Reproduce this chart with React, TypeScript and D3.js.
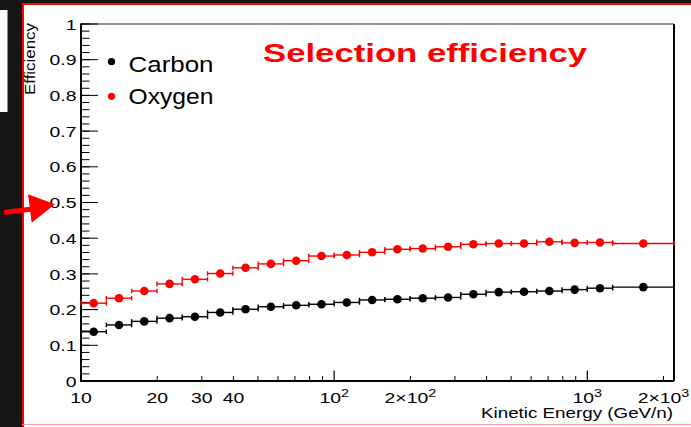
import React from "react";
import * as d3 from "d3";

// Canvas
const W = 691;
const H = 427;

// Kinetic energy bins (GeV/n): 0.1-decade bins from 10 to ~1260, plus one wide last bin
const binEdges = [
  10, 12.59, 15.85, 19.95, 25.12, 31.62, 39.81, 50.12, 63.1, 79.43, 100, 125.9,
  158.5, 199.5, 251.2, 316.2, 398.1, 501.2, 631, 794.3, 1000, 1258.9, 2200,
];

// Selection efficiency per bin
const carbon = [
  0.138, 0.157, 0.167, 0.176, 0.18, 0.192, 0.201, 0.208, 0.212, 0.215, 0.22,
  0.227, 0.229, 0.232, 0.234, 0.243, 0.249, 0.25, 0.252, 0.256, 0.26, 0.263,
];
const oxygen = [
  0.218, 0.232, 0.252, 0.272, 0.285, 0.301, 0.317, 0.328, 0.337, 0.35, 0.353,
  0.3605, 0.369, 0.371, 0.376, 0.383, 0.385, 0.385, 0.39, 0.387, 0.388, 0.385,
];

// Axis ticks
const xMajor = [10, 100, 1000];
const xMinor = [20, 30, 40, 50, 60, 70, 80, 90, 200, 300, 400, 500, 600, 700, 800, 900, 2000];
const xTickValues = [10, 20, 30, 40, 100, 200, 1000, 2000];
const xTickBase = ["10", "20", "30", "40", "10", "2×10", "10", "2×10"];
const xTickExp = ["", "", "", "", "2", "2", "3", "3"];
const yMajor = [0, 0.1, 0.2, 0.3, 0.4, 0.5, 0.6, 0.7, 0.8, 0.9, 1];
const yLabels = ["0", "0.1", "0.2", "0.3", "0.4", "0.5", "0.6", "0.7", "0.8", "0.9", "1"];
const yMinor = d3.range(0, 51).map((i) => i * 0.02);

const seriesNames = ["Carbon", "Oxygen"];
const seriesColors = ["#000000", "#ff0000"];

const FONT = "'Liberation Sans', Arial, Helvetica, sans-serif";

// Plot frame
const left = 81;
const right = 674;
const top = 24;
const bottom = 381;

export default function App() {
  const x = d3.scaleLog().domain([10, 2200]).range([left, right]);
  const y = d3.scaleLinear().domain([0, 1]).range([bottom, top]);

  const series = [carbon, oxygen];

  const bins = carbon.map((_, i) => {
    const lo = binEdges[i];
    const hi = binEdges[i + 1];
    return { lo, hi, c: Math.sqrt(lo * hi) };
  });

  return (
    <svg
      width={W}
      height={H}
      viewBox={`0 0 ${W} ${H}`}
      style={{ position: "absolute", left: 0, top: 0, display: "block" }}
      fontFamily={FONT}
    >
      <rect x={0} y={0} width={W} height={H} fill="#ffffff" />
      {/* surrounding slide background */}
      <rect x={0} y={0} width={22} height={H} fill="#151515" />
      <rect x={0} y={0} width={W} height={3} fill="#151515" />
      <rect x={0} y={10} width={7.5} height={102} fill="#ffffff" />
      <rect x={22} y={3} width={2} height={H - 3} fill="#ff0000" />
      <rect x={22} y={3} width={W - 22} height={2} fill="#ff0000" />
      <line x1={22} x2={W} y1={424.5} y2={424.5} stroke="#ff9a9a" strokeWidth={1} />

      {/* frame */}
      <line x1={left} x2={right} y1={top} y2={top} stroke="#707070" strokeWidth={1.5} />
      <line x1={right} x2={right} y1={top} y2={bottom} stroke="#000" strokeWidth={2} />

      {/* y ticks */}
      {yMinor.map((v, i) => (
        <line key={`ym${i}`} x1={left} x2={left + 8.5} y1={y(v)} y2={y(v)} stroke="#000" strokeWidth={1} />
      ))}
      {yMajor.map((v, i) => (
        <line key={`yM${i}`} x1={left} x2={left + 17} y1={y(v)} y2={y(v)} stroke="#000" strokeWidth={1} />
      ))}
      {yMajor.map((v, i) => (
        <g key={`yl${i}`} transform={`translate(${left - 4.5},${y(v) + 5.6}) scale(1.25,1)`}>
          <text x={0} y={0} textAnchor="end" fontSize={15.5} fill="#000">
            {yLabels[i]}
          </text>
        </g>
      ))}

      {/* x ticks */}
      {xMinor.map((v, i) => (
        <line key={`xm${i}`} x1={x(v)} x2={x(v)} y1={bottom} y2={bottom - 5} stroke="#000" strokeWidth={1} />
      ))}
      {xMajor.map((v, i) => (
        <line key={`xM${i}`} x1={x(v)} x2={x(v)} y1={bottom} y2={bottom - 10.5} stroke="#000" strokeWidth={1.2} />
      ))}
      {xTickValues.map((v, i) => (
        <g key={`xl${i}`} transform={`translate(${x(v)},${403.3}) scale(1.25,1)`}>
          <text x={0} y={0} textAnchor="middle" fontSize={15.5} fill="#000">
            {xTickBase[i]}
            {xTickExp[i] ? (
              <tspan fontSize={11.5} dy={-6.3}>
                {xTickExp[i]}
              </tspan>
            ) : null}
          </text>
        </g>
      ))}

      {/* axes lines */}
      <line x1={left} x2={left} y1={top - 0.5} y2={bottom + 1} stroke="#000" strokeWidth={2} />
      <line x1={left} x2={right} y1={bottom} y2={bottom} stroke="#000" strokeWidth={1.8} />

      {/* axis titles */}
      <text
        x={0}
        y={0}
        transform={`translate(34.5,23) rotate(-90)`}
        textAnchor="end"
        fontSize={14}
        textLength={72}
        lengthAdjust="spacingAndGlyphs"
        fill="#000"
      >
        Efficiency
      </text>
      <text
        x={673 - 192}
        y={417.8}
        fontSize={14}
        textLength={192}
        lengthAdjust="spacingAndGlyphs"
        fill="#000"
      >
        Kinetic Energy (GeV/n)
      </text>

      {/* data: horizontal bin-width error bars with end caps, plus markers */}
      {series.map((vals, si) => (
        <g key={`s${si}`}>
          {bins.map((b, i) => (
            <g key={`b${i}`} stroke={seriesColors[si]} strokeWidth={1.4}>
              <line x1={x(b.lo)} x2={x(b.hi)} y1={y(vals[i])} y2={y(vals[i])} />
              <line x1={x(b.lo)} x2={x(b.lo)} y1={y(vals[i]) - 2.3} y2={y(vals[i]) + 2.3} />
              <line x1={x(b.hi)} x2={x(b.hi)} y1={y(vals[i]) - 2.3} y2={y(vals[i]) + 2.3} />
            </g>
          ))}
          {bins.map((b, i) => (
            <circle key={`p${i}`} cx={x(b.c)} cy={y(vals[i])} r={4.3} fill={seriesColors[si]} />
          ))}
        </g>
      ))}

      {/* legend */}
      {seriesNames.map((name, i) => (
        <g key={`lg${i}`}>
          <circle cx={111.5} cy={61.7 + i * 34.6} r={3.6} fill={seriesColors[i]} />
          <text
            x={128.5}
            y={71.6 + i * 32}
            fontSize={22}
            textLength={85}
            lengthAdjust="spacingAndGlyphs"
            fill="#000"
          >
            {name}
          </text>
        </g>
      ))}

      {/* title */}
      <text
        x={263}
        y={61.6}
        fontSize={25.5}
        fontWeight="bold"
        textLength={324}
        lengthAdjust="spacingAndGlyphs"
        fill="#ff0000"
      >
        Selection efficiency
      </text>

      {/* pointer arrow */}
      <line x1={4} y1={212.5} x2={34} y2={208.8} stroke="#ff0000" strokeWidth={5} />
      <path d="M28,194.3 L31.7,222.7 L55,204.3 Z" fill="#ff0000" />
    </svg>
  );
}
